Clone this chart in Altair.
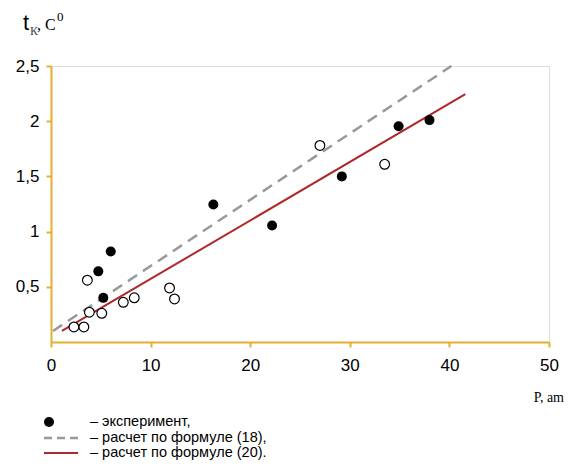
import altair as alt
import pandas as pd

# Experimental points (filled)
exp_x = [4.75, 5.25, 6.0, 16.3, 22.2, 29.2, 34.9, 38.0]
exp_y = [0.64, 0.40, 0.82, 1.245, 1.055, 1.50, 1.955, 2.01]

# Open points
open_x = [2.3, 3.3, 3.65, 3.85, 5.1, 7.26, 8.36, 11.9, 12.4, 27.0, 33.5]
open_y = [0.136, 0.136, 0.56, 0.27, 0.26, 0.36, 0.40, 0.49, 0.39, 1.78, 1.61]

# Formula (18) line endpoints (dashed)
f18_x = [0.2, 40.2]
f18_y = [0.10, 2.50]

# Formula (20) line endpoints (solid red)
f20_x = [1.1, 41.6]
f20_y = [0.10, 2.245]

legend_labels = ["– эксперимент,", "– расчет по формуле (18),", "– расчет по формуле (20)."]

AXIS_COLOR = "#E6AE2E"
W, H = 498, 276
LEG_Y = [356, 372, 387]

exp_df = pd.DataFrame({"x": exp_x, "y": exp_y})
open_df = pd.DataFrame({"x": open_x, "y": open_y})
f18_df = pd.DataFrame({"x": f18_x, "y": f18_y})
f20_df = pd.DataFrame({"x": f20_x, "y": f20_y})

xscale = alt.Scale(domain=[0, 50], nice=False, zero=False)
yscale = alt.Scale(domain=[0, 2.5], nice=False, zero=False)

xaxis = alt.Axis(values=[0, 10, 20, 30, 40, 50], format="d", title=None, grid=False,
                 domainColor=AXIS_COLOR, tickColor=AXIS_COLOR, domainWidth=2, tickWidth=2,
                 tickSize=5, labelFont="Liberation Sans", labelFontSize=17, labelColor="#000",
                 labelPadding=10, labelFlush=False)
yaxis = alt.Axis(values=[0.5, 1, 1.5, 2, 2.5], title=None, grid=False, format="~g",
                 domainColor=AXIS_COLOR, tickColor=AXIS_COLOR, domainWidth=2, tickWidth=2,
                 tickSize=5, labelFont="Liberation Sans", labelFontSize=17, labelColor="#000",
                 labelPadding=7,
                 labelExpr="replace(datum.label, '.', ',')")

base_x = alt.X("x:Q", scale=xscale, axis=xaxis)
base_y = alt.Y("y:Q", scale=yscale, axis=yaxis)

line18 = alt.Chart(f18_df).mark_line(color="#999999", strokeWidth=2.5, strokeDash=[11, 7]).encode(
    x=base_x, y=base_y)
line20 = alt.Chart(f20_df).mark_line(color="#B0282A", strokeWidth=2).encode(
    x=alt.X("x:Q", scale=xscale), y=alt.Y("y:Q", scale=yscale))

open_pts = alt.Chart(open_df).mark_point(shape="circle", filled=True, fill="white", stroke="black",
                                         strokeWidth=1.2, size=95, opacity=1).encode(
    x=alt.X("x:Q", scale=xscale), y=alt.Y("y:Q", scale=yscale))
exp_pts = alt.Chart(exp_df).mark_point(shape="circle", filled=True, color="black", size=100,
                                       opacity=1).encode(
    x=alt.X("x:Q", scale=xscale), y=alt.Y("y:Q", scale=yscale))

# Axis titles
p_title = alt.Chart(pd.DataFrame({"t": ["P, am"]})).mark_text(
    font="Liberation Serif", fontSize=14, align="right", baseline="middle", color="#000").encode(
    text="t:N", x=alt.value(513), y=alt.value(332))

t_main = alt.Chart(pd.DataFrame({"t": ["t"]})).mark_text(
    font="Liberation Sans", fontSize=22, align="left", baseline="alphabetic", color="#000").encode(
    text="t:N", x=alt.value(-28), y=alt.value(-36))
t_sub = alt.Chart(pd.DataFrame({"t": ["К"]})).mark_text(
    font="Liberation Serif", fontSize=12, align="left", baseline="alphabetic", color="#444").encode(
    text="t:N", x=alt.value(-21), y=alt.value(-31))
t_c = alt.Chart(pd.DataFrame({"t": [", C"]})).mark_text(
    font="Liberation Serif", fontSize=16, align="left", baseline="alphabetic", color="#000").encode(
    text="t:N", x=alt.value(-14), y=alt.value(-36))
t_sup = alt.Chart(pd.DataFrame({"t": ["0"]})).mark_text(
    font="Liberation Serif", fontSize=13, align="left", baseline="alphabetic", color="#000").encode(
    text="t:N", x=alt.value(6), y=alt.value(-45))

# Legend
leg_dot = alt.Chart(pd.DataFrame({"k": [0]})).mark_point(
    shape="circle", filled=True, color="black", size=100, opacity=1).encode(
    x=alt.value(-2), y=alt.value(LEG_Y[0]))
leg_dash = alt.Chart(pd.DataFrame({"k": [0]})).mark_rule(
    color="#999999", strokeWidth=2.5, strokeDash=[8, 5]).encode(
    x=alt.value(-7), x2=alt.value(27), y=alt.value(LEG_Y[1]))
leg_red = alt.Chart(pd.DataFrame({"k": [0]})).mark_rule(
    color="#B0282A", strokeWidth=2).encode(
    x=alt.value(-7), x2=alt.value(27), y=alt.value(LEG_Y[2]))

leg_texts = []
for i, lab in enumerate(legend_labels):
    leg_texts.append(alt.Chart(pd.DataFrame({"t": [lab]})).mark_text(
        font="Liberation Sans", fontSize=14.5, align="left",
        baseline="middle", color="#000").encode(
        text="t:N", x=alt.value(39), y=alt.value(LEG_Y[i])))

chart = alt.layer(line18, line20, open_pts, exp_pts, p_title, t_main, t_sub, t_c, t_sup,
                  leg_dot, leg_dash, leg_red, *leg_texts).properties(
    width=W, height=H,
    autosize=alt.AutoSizeParams(type="none"),
    padding={"left": 43, "top": 58, "right": 16, "bottom": 118},
).configure_view(strokeWidth=0).configure(background="white")

chart.save("out.html", embed_options={"renderer": "svg", "actions": False})
